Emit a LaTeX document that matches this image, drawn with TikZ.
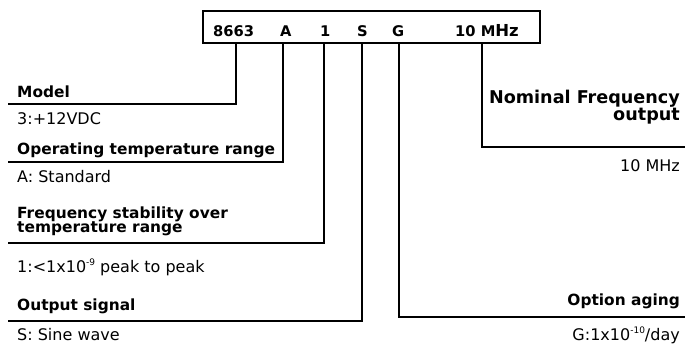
\documentclass[tikz,border=0pt]{standalone}
\usepackage{fontspec}
\setmainfont{DejaVu Sans}
\newcommand{\supsm}[1]{\raisebox{0.45em}{\fontsize{9}{9}\selectfont #1}}
\begin{document}
\begin{tikzpicture}[x=1pt,y=-1pt,
  ttl/.style={font=\bfseries\fontsize{15.4}{16}\selectfont, inner sep=0},
  big/.style={font=\bfseries\fontsize{17.6}{18}\selectfont, inner sep=0},
  cod/.style={font=\bfseries\fontsize{14.7}{15}\selectfont, inner sep=0},
  val/.style={font=\fontsize{16}{17}\selectfont, inner sep=0},
  ln/.style={line width=1.4pt},
  codebox/.style={draw, line width=1.8pt, minimum width=337pt, minimum height=32pt, inner sep=0}]
\useasboundingbox (0,0) rectangle (685,344);
\node[codebox] (code) at (371.5,27) {};
\node[cod, anchor=base west] (c1) at (213,37) {8663};
\node[cod, anchor=base west] (c2) at (280,37) {A};
\node[cod, anchor=base west] (c3) at (320,37) {1};
\node[cod, anchor=base west] (c4) at (357,37) {S};
\node[cod, anchor=base west] (c5) at (392,37) {G};
\node[cod, anchor=base west] (c6) at (455,37) {10 M{\fontsize{16.5}{16}\selectfont Hz}};
% left titles and values
\node[ttl, anchor=base west] (t1) at (17,98) {Model};
\node[val, anchor=base west] (v1) at (17,125) {3:+12VDC};
\node[ttl, anchor=base west] (t2) at (17,155) {Operating temperature range};
\node[val, anchor=base west] (v2) at (17,183) {A: Standard};
\node[ttl, anchor=base west] (t3a) at (17,219) {Frequency stability over};
\node[ttl, anchor=base west] (t3b) at (17,233) {temperature range};
\node[val, anchor=base west] (v3) at (17,273) {1:<1x10\supsm{-9} peak to peak};
\node[ttl, anchor=base west] (t4) at (17,311) {Output signal};
\node[val, anchor=base west] (v4) at (17,341) {S: Sine wave};
% right titles and values
\node[big, anchor=base east] (t6a) at (680,104) {Nominal Frequency};
\node[big, anchor=base east] (t6b) at (680,121) {output};
\node[val, anchor=base east] (v6) at (680,172) {10 MHz};
\node[ttl, anchor=base east] (t5) at (680,306) {Option aging};
\node[val, anchor=base east] (v5) at (680,341) {G:1x10\supsm{-10}/day};
% connector corners
\coordinate (k1) at (236,104); \coordinate (e1) at (8,104);
\coordinate (k2) at (283,162); \coordinate (e2) at (8,162);
\coordinate (k3) at (324,243); \coordinate (e3) at (8,243);
\coordinate (k4) at (362,321); \coordinate (e4) at (8,321);
\coordinate (k5) at (399,317); \coordinate (e5) at (685,317);
\coordinate (k6) at (482,147); \coordinate (e6) at (685,147);
\draw[ln] (code.south -| k1) -- (k1) -- (e1);
\draw[ln] (code.south -| k2) -- (k2) -- (e2);
\draw[ln] (code.south -| k3) -- (k3) -- (e3);
\draw[ln] (code.south -| k4) -- (k4) -- (e4);
\draw[ln] (code.south -| k5) -- (k5) -- (e5);
\draw[ln] (code.south -| k6) -- (k6) -- (e6);
\end{tikzpicture}
\end{document}
